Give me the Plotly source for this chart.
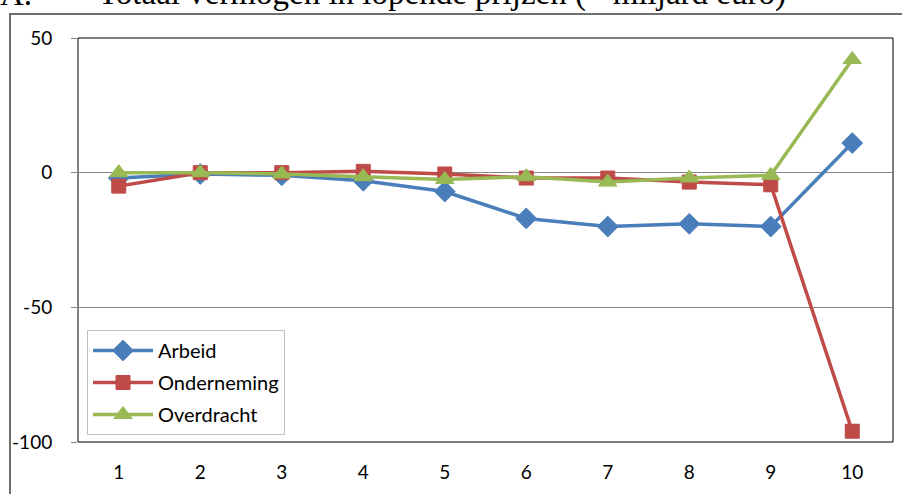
import plotly.graph_objects as go

# Series values (x miljard euro) per category
categories = ["1", "2", "3", "4", "5", "6", "7", "8", "9", "10"]
arbeid = [-2, -0.5, -1, -3, -7, -17, -20, -19, -20, 11]
onderneming = [-5, 0, 0, 0.5, -0.5, -2, -2, -3.5, -4.5, -96]
overdracht = [0, 0, -0.5, -1.5, -2.5, -1.5, -3.5, -2, -1, 42]
y_ticks = [-100, -50, 0, 50]
y_tick_text = ["-100", "-50", "0", "50"]

W, H = 902, 494
L, R, T, B = 78, 893, 38, 442  # plot area in pixels


def px_x(p):
    return (p - L) / (R - L)


def px_y(p):
    return (B - p) / (B - T)


FONT = "Lato, Liberation Sans, sans-serif"
SERIF = "Liberation Serif, Times New Roman, serif"

fig = go.Figure()

series = [
    ("Arbeid", arbeid, "#4A7EBB", "diamond", 16),
    ("Onderneming", onderneming, "#BE4B48", "square", 14),
    ("Overdracht", overdracht, "#98B954", "triangle-up", 16),
]
for name, vals, color, sym, size in series:
    fig.add_trace(go.Scatter(
        x=categories, y=vals, name=name, mode="lines+markers",
        legendgroup=name,
        line=dict(color=color, width=3.5),
        marker=dict(symbol=sym, size=size, color=color,
                    line=dict(color=color, width=1)),
        xaxis="x", yaxis="y",
    ))

fig.update_layout(
    width=W, height=H,
    margin=dict(l=L, r=W - R, t=T, b=H - B, pad=0),
    paper_bgcolor="white", plot_bgcolor="white",
    showlegend=True,
    legend=dict(
        x=px_x(87), y=px_y(330), xanchor="left", yanchor="top",
        bgcolor="white", bordercolor="#BFBFBF", borderwidth=1,
        font=dict(family=FONT, size=20, color="black"),
        tracegroupgap=3, itemwidth=60,
    ),
    xaxis=dict(
        type="category", range=[-0.5, 9.5],
        showgrid=False, zeroline=False, showline=False,
        ticks="", ticklabelstandoff=17,
        tickfont=dict(family=FONT, size=19, color="black"),
    ),
    # horizontal category axis line crossing at y = 0
    xaxis2=dict(
        overlaying="x", anchor="free", position=px_y(T + (B - T) * 50 / 150),
        range=[-0.5, 9.5], tick0=-0.5, dtick=1,
        showgrid=False, zeroline=False, showline=True,
        linecolor="#868686", linewidth=1,
        ticks="outside", ticklen=5, tickcolor="#868686",
        showticklabels=False,
    ),
    yaxis=dict(
        range=[-100, 50], tickvals=y_ticks, ticktext=y_tick_text,
        showgrid=True, gridcolor="#868686", gridwidth=1,
        zeroline=False, showline=True, linecolor="#868686", linewidth=1,
        ticks="outside", ticklen=6, tickcolor="#868686",
        ticklabelstandoff=15,
        tickfont=dict(family=FONT, size=19, color="black"),
    ),
    shapes=[
        # plot area border
        dict(type="rect", xref="paper", yref="paper", x0=0, y0=0, x1=1, y1=1,
             line=dict(color="black", width=1), layer="below"),
        # outer chart frame
        dict(type="rect", xref="paper", yref="paper",
             x0=px_x(10), y0=px_y(560), x1=px_x(960), y1=px_y(14),
             line=dict(color="#6E6E6E", width=2), layer="above"),
    ],
    annotations=[
        dict(text="A.", xref="paper", yref="paper", x=px_x(-2), y=px_y(14),
             xanchor="left", yanchor="bottom", showarrow=False,
             font=dict(family=SERIF, size=33, color="black")),
        dict(text="Totaal vermogen in lopende prijzen (\u00d7 miljard euro)",
             xref="paper", yref="paper", x=px_x(96), y=px_y(14),
             xanchor="left", yanchor="bottom", showarrow=False,
             font=dict(family=SERIF, size=33, color="black")),
    ],
)

fig.write_html("out.html")
